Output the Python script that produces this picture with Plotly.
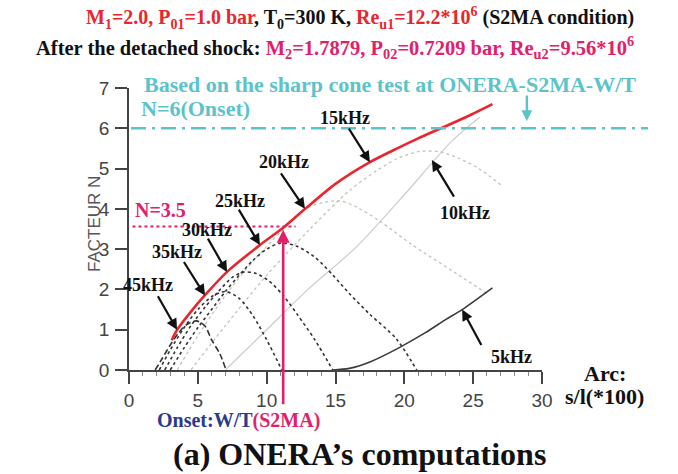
import plotly.graph_objects as go

# ---------------- data ----------------
env_x = [3.1, 3.5, 4.5, 5.5, 7.1, 9.5, 11.2, 12.8, 15.0, 17.5, 19.6, 21.0, 23.0, 24.8, 26.4]
env_y = [0.74, 1.0, 1.45, 1.85, 2.43, 3.10, 3.53, 4.0, 4.62, 5.16, 5.52, 5.75, 6.05, 6.33, 6.6]

f45_x = [1.9, 2.4, 3.0, 3.6, 4.2, 4.9, 5.5, 6.0, 6.6, 7.0]
f45_y = [0.0, 0.28, 0.62, 0.92, 1.13, 1.22, 1.1, 0.75, 0.4, 0.05]

f35_x = [2.2, 3.0, 4.0, 5.0, 6.0, 7.0, 8.0, 9.0, 10.0, 11.1]
f35_y = [0.0, 0.5, 1.05, 1.5, 1.82, 1.95, 1.78, 1.35, 0.75, 0.0]

f30_x = [2.6, 3.5, 4.5, 5.5, 6.5, 7.5, 8.3, 9.2, 10.2, 11.2, 12.2, 13.5, 14.8]
f30_y = [0.0, 0.55, 1.1, 1.55, 1.95, 2.3, 2.43, 2.4, 2.2, 1.85, 1.39, 0.75, 0.0]

f25_x = [3.0, 4.0, 5.0, 6.0, 7.0, 8.0, 9.0, 10.0, 11.0, 12.2, 13.5, 14.8, 16.0, 17.5, 19.4, 20.9]
f25_y = [0.0, 0.55, 1.05, 1.5, 1.95, 2.35, 2.72, 3.0, 3.15, 3.07, 2.8, 2.36, 1.9, 1.38, 0.78, 0.0]

f20_x = [3.5, 5.0, 7.0, 9.0, 11.0, 12.6, 14.0, 15.3, 16.5, 18.2, 20.6, 23.8, 26.0]
f20_y = [0.0, 0.85, 1.85, 2.7, 3.42, 3.96, 4.15, 4.2, 4.05, 3.7, 3.1, 2.39, 1.9]

f15_x = [4.5, 7.0, 10.0, 13.0, 16.0, 18.0, 19.5, 21.0, 22.5, 24.0, 25.4, 27.0]
f15_y = [0.0, 1.1, 2.35, 3.45, 4.45, 4.95, 5.25, 5.42, 5.42, 5.25, 5.0, 4.6]

f10_x = [7.0, 10.0, 13.0, 16.5, 20.0, 23.5, 25.5]
f10_y = [0.0, 1.0, 2.0, 3.05, 4.35, 5.7, 6.28]

f5_x = [14.8, 16.0, 17.5, 19.6, 21.5, 23.0, 24.2, 26.4]
f5_y = [0.0, 0.04, 0.2, 0.55, 0.92, 1.25, 1.5, 2.04]

x_ticks = [0, 5, 10, 15, 20, 25, 30]
y_ticks = [0, 1, 2, 3, 4, 5, 6, 7]

onset_N = 6.0
n35 = 3.5
s2ma_x = 11.2

# ---------------- figure ----------------
W, H = 678, 474
L, R, T, B = 129, 136, 88, 104
PW, PH = W - L - R, H - T - B

def px(xp):
    return (xp - L) / PW

def py(yp):
    return (H - B - yp) / PH

SERIF = "Liberation Serif"
SANS = "Liberation Sans"
RED = "#e8262e"
PINK = "#e2206a"
CYAN = "#5cc3cb"
DARK = "#333333"

fig = go.Figure()

def add_curve(xs, ys, color, width, dash):
    fig.add_trace(go.Scatter(x=xs, y=ys, mode="lines",
                             line=dict(color=color, width=width, dash=dash, shape="spline", smoothing=0.8),
                             hoverinfo="skip", showlegend=False))

add_curve(f10_x, f10_y, "#cdcdcd", 1.2, "solid")
add_curve(f15_x, f15_y, "#bfc7b4", 1.3, "dot")
add_curve(f20_x, f20_y, "#bfc7b4", 1.3, "dot")
add_curve(f25_x, f25_y, DARK, 1.6, "dot")
add_curve(f30_x, f30_y, DARK, 1.6, "dot")
add_curve(f35_x, f35_y, DARK, 1.6, "dot")
add_curve(f45_x, f45_y, DARK, 1.6, "6px,3px")
add_curve(f5_x, f5_y, "#3a3a3a", 1.6, "solid")
add_curve(env_x, env_y, RED, 2.6, "solid")

# cyan onset line (extends beyond the axis)
fig.add_shape(type="line", xref="paper", yref="y", x0=px(131), x1=px(648), y0=onset_N, y1=onset_N,
              line=dict(color=CYAN, width=2.6, dash="longdashdot"))
# pink N=3.5 dotted line
fig.add_shape(type="line", xref="x", yref="y", x0=0.25, x1=12.1, y0=n35 + 0.06, y1=n35 + 0.06,
              line=dict(color=PINK, width=2, dash="dot"))

ann = []

def text(x, y, t, size, color="#111111", family=SERIF, bold=True, angle=0):
    ann.append(dict(xref="paper", yref="paper", x=px(x), y=py(y), text=t, showarrow=False,
                    xanchor="center", yanchor="middle", textangle=angle,
                    font=dict(family=family, size=size, color=color, weight="bold" if bold else "normal")))

def arrow(xd, yd, axp, ayp, color="#111111", width=2.2, head=2, size=1.0):
    ann.append(dict(xref="x", yref="y", x=xd, y=yd, ax=axp, ay=ayp, text="", showarrow=True,
                    arrowhead=head, arrowsize=size, arrowwidth=width, arrowcolor=color))

# titles
t1 = (f"<span style='color:{RED}'>M<sub>1</sub>=2.0, P<sub>01</sub>=1.0 bar</span>, T<sub>0</sub>=300 K, "
      f"<span style='color:{RED}'>Re<sub>u1</sub>=12.2*10<sup>6</sup></span> (S2MA condition)")
t2 = (f"After the detached shock: <span style='color:{PINK}'>M<sub>2</sub>=1.7879, "
      f"P<sub>02</sub>=0.7209 bar, Re<sub>u2</sub>=9.56*10<sup>6</sup></span>")
text(360, 18, t1, 20)
text(335, 47, t2, 20.5)

text(390, 84, "Based on the sharp cone test at ONERA-S2MA-W/T", 22, CYAN)
text(195, 108, "N=6(Onset)", 22, CYAN)
text(160, 210, "N=3.5", 20, PINK)

# frequency labels
text(345, 118, "15kHz", 18)
text(284, 162, "20kHz", 18)
text(240, 201, "25kHz", 18)
text(207, 230, "30kHz", 18)
text(177, 252, "35kHz", 18)
text(148, 285, "45kHz", 18)
text(465, 213, "10kHz", 18)
text(511, 357, "5kHz", 18)

# label arrows
arrow(17.5, 5.16, -22, -35)
arrow(12.78, 4.0, -25, -37)
arrow(9.51, 3.10, -22, -37)
arrow(7.12, 2.43, -20, -35)
arrow(5.52, 1.85, -22, -35)
arrow(3.49, 1.0, -20, -35)
arrow(22.0, 5.21, 23, 38)
arrow(24.2, 1.5, 20, 37)

# pink onset arrow and cyan arrow
arrow(s2ma_x, n35 - 0.02, 0, 176, color=PINK, width=2.6, head=2, size=1.0)
arrow(28.9, onset_N + 0.18, 0, -27, color=CYAN, width=2.4, head=2, size=0.9)

# axis texts
text(605, 373, "Arc:", 22)
text(604, 396, "s/l(*100)", 22)
text(238, 420, f"<span style='color:#2a3a8c'>Onset:W/T</span><span style='color:{PINK}'>(S2MA)</span>", 20)
text(359, 454, "(a) ONERA’s computations", 32, "#111111")
text(94, 224, "FACTEUR N", 17, "#555555", SANS, bold=False, angle=-90)

fig.update_layout(
    width=W, height=H,
    margin=dict(l=L, r=R, t=T, b=B),
    paper_bgcolor="white", plot_bgcolor="white",
    showlegend=False,
    annotations=ann,
    xaxis=dict(range=[0, 30], tickvals=x_ticks, showgrid=False, zeroline=False,
               showline=True, linecolor="#444444", linewidth=1.5,
               ticks="outside", ticklen=12, tickwidth=1.5, tickcolor="#444444",
               minor=dict(dtick=1, ticks="outside", ticklen=4, tickcolor="#888888", tickwidth=1),
               tickfont=dict(family=SANS, size=19, color="#444444")),
    yaxis=dict(range=[0, 7], tickvals=y_ticks, showgrid=False, zeroline=False,
               showline=True, linecolor="#444444", linewidth=1.5,
               ticks="outside", ticklen=12, tickwidth=1.5, tickcolor="#444444",
               ticklabelstandoff=2,
               tickfont=dict(family=SANS, size=19, color="#444444")),
)

fig.write_html("out.html")
